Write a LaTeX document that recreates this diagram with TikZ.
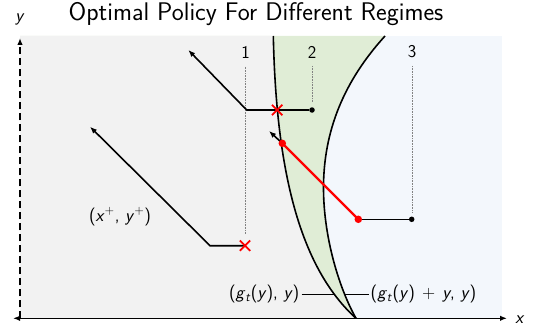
\documentclass[tikz,border=0pt]{standalone}
\usetikzlibrary{arrows.meta,shapes.misc}
\definecolor{bggray}{RGB}{242,242,242}
\definecolor{bggreen}{RGB}{224,237,214}
\definecolor{bgblue}{RGB}{243,247,252}
\definecolor{guidegray}{RGB}{130,130,130}
\begin{document}
\begin{tikzpicture}[x=1pt,y=-1pt,
  every node/.style={font=\sffamily\fontsize{18}{21}\selectfont, inner sep=2pt},
  titlestyle/.style={font=\sffamily\fontsize{25.5}{30}\selectfont},
  axisline/.style={line width=1.4pt},
  pathline/.style={line width=1.6pt, black},
  redline/.style={line width=2.2pt, red},
  curveline/.style={line width=1.6pt, black},
  guide/.style={densely dotted, guidegray, line width=0.6pt},
  bdot/.style={circle, fill=black, inner sep=0pt, minimum size=5.5pt},
  rdot/.style={circle, fill=red, inner sep=0pt, minimum size=7.5pt},
  xmark/.style={cross out, draw=red, line width=1.8pt, inner sep=0pt, minimum size=8.5pt},
  tip/.style={-{Latex[length=7pt,width=5.5pt]}}
]
\useasboundingbox (0,0) rectangle (537,326);
% backgrounds
\fill[bgblue] (20,36) rectangle (502,318.3);
\fill[bggreen] (20,36) -- (385,36) .. controls (345,80) and (323,130) .. (323.5,190) .. controls (324,240) and (340,290) .. (356,318.3) -- (20,318.3) -- cycle;
\fill[bggray] (20,36) -- (273.3,36) .. controls (276,160) and (296,264) .. (356,318.3) -- (20,318.3) -- cycle;
\draw[curveline] (385,36) .. controls (345,80) and (323,130) .. (323.5,190) .. controls (324,240) and (340,290) .. (356,318.3);
\draw[curveline] (273.3,36) .. controls (276,160) and (296,264) .. (356,318.3);

% title and axes
\node[titlestyle] (title) at (256,14) {Optimal Policy For Different Regimes};
\node (ylab) at (20,19) {\textit{y}};
\node (xlab) at (520,320) {\textit{x}};
\coordinate (xl) at (13,318.3);
\coordinate (xr) at (507,318.3);
\coordinate (yb) at (20,318.3);
\coordinate (yt) at (20,38);
\draw[axisline, {Latex[length=7pt,width=5.5pt]}-{Latex[length=7pt,width=5.5pt]}] (xl) -- (xr);
\draw[axisline, line width=1.6pt, dash pattern=on 7pt off 4pt, tip] (yb) -- (yt);

% regime numbers and guides
\node (n1) at (245.7,52) {1};
\node (n2) at (312,52) {2};
\node (n3) at (412,52) {3};
\coordinate (g1a) at (245.7,66.7);
\coordinate (g1b) at (245.7,234);
\coordinate (g2a) at (312,66);
\coordinate (g2b) at (312,102);
\coordinate (g3a) at (412,66);
\coordinate (g3b) at (412,212);
\draw[guide] (g1a) -- (g1b);
\draw[guide] (g2a) -- (g2b);
\draw[guide] (g3a) -- (g3b);

% points
\coordinate (c1) at (245,245.7);
\coordinate (c2) at (277.2,110);
\coordinate (k1) at (246.7,110);
\coordinate (a1) at (188.3,50);
\coordinate (k2) at (210,245.7);
\coordinate (a2) at (90,126.7);
\coordinate (a3) at (269,131);
\node[bdot] (d2) at (312,110) {};
\node[bdot] (d3) at (411.7,219.3) {};

% paths
\draw[pathline, tip] (d2) -- (k1) -- (a1);
\draw[pathline, tip] (c1) -- (k2) -- (a2);
\draw[pathline] (d3) -- (358.3,219.3) coordinate (r2c);
\coordinate (r1c) at (282.3,143.3);
\draw[pathline, tip] (r1c) -- (a3);
\draw[redline] (r2c) -- (r1c);
\node[rdot] (r1) at (r1c) {};
\node[rdot] (r2) at (r2c) {};
\node[xmark] (x1) at (c1) {};
\node[xmark] (x2) at (c2) {};

% labels
\node (lxy) at (120,216.7) {(\textit{x}\textsuperscript{+}, \textit{y}\textsuperscript{+})};
\node[anchor=east] (lg) at (301.5,294.3) {(\textit{g}\textsubscript{\textit{t}}(\textit{y}), \textit{y})};
\node[anchor=west] (lgy) at (368.5,294.3) {(\textit{g}\textsubscript{\textit{t}}(\textit{y})\hspace{0.4em}+\hspace{0.4em}\textit{y}, \textit{y})};
\coordinate (onl) at (334.4,294.3);
\coordinate (onr) at (344.6,294.3);
\draw[pathline] (lg.east) -- (onl);
\draw[pathline] (onr) -- (lgy.west);
\end{tikzpicture}
\end{document}
